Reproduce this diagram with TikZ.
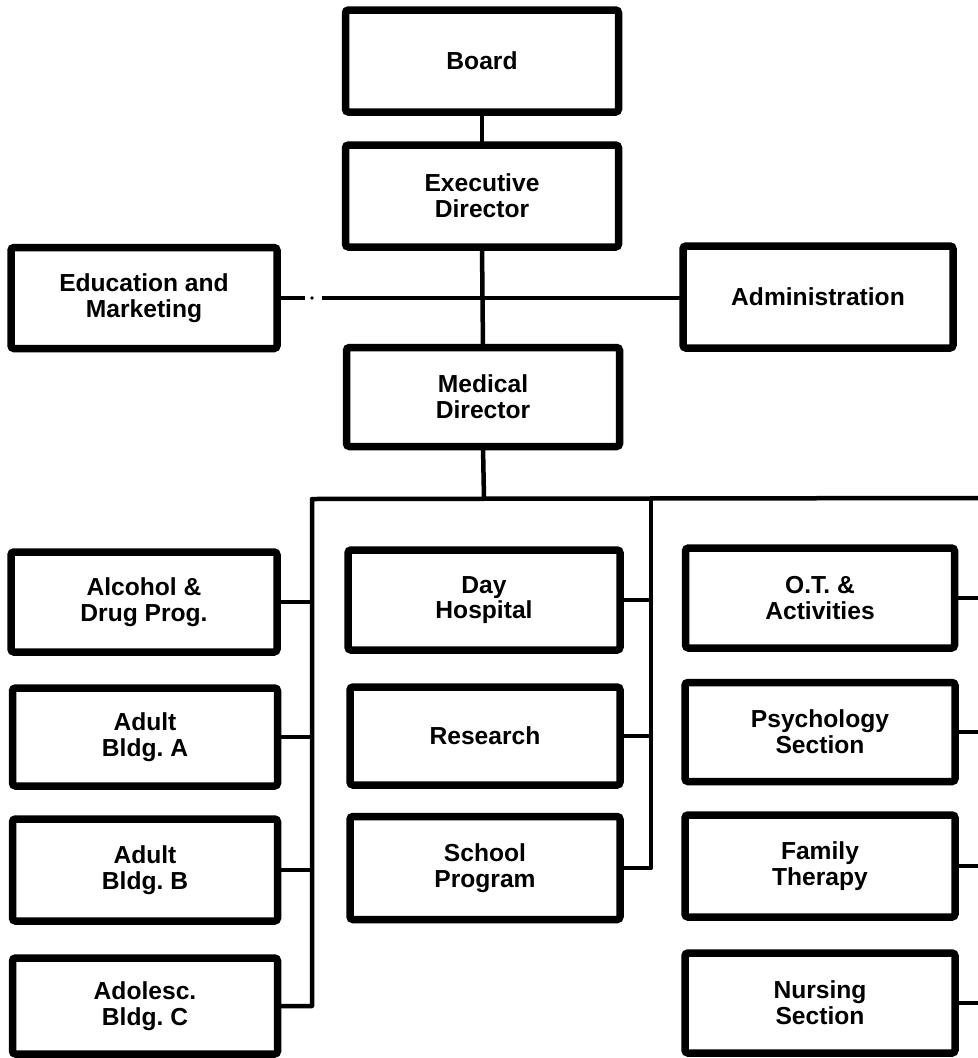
\documentclass[tikz,border=0pt]{standalone}
\usepackage{fontspec}
\setmainfont{Liberation Sans}
\frenchspacing
\newcommand\pxu{0.03cm}
\tikzset{
  unit box/.style 2 args={
    draw, line width=7.5*\pxu, rounded corners=3*\pxu,
    minimum width=#1*\pxu, minimum height=#2*\pxu,
    inner sep=0pt, outer sep=0pt, align=center,
    font=\fontsize{21}{22}\selectfont\bfseries},
  link/.style={line width=4.5*\pxu, line join=round}
}
\begin{document}
\begin{tikzpicture}[x=\pxu, y=-\pxu]
\useasboundingbox (0,0) rectangle (978,1058);

% top of the chart
\node[unit box={273}{102}] (board) at (482,61) {Board};
\node[unit box={273}{102}] (exec)  at (482,196) {Executive\\Director};
\node[unit box={266}{101}] (edu)   at (144,298) {Education and\\Marketing};
\node[unit box={270}{102}] (admin) at (818,297) {Administration};
\node[unit box={273}{99}]  (med)   at (483,397) {Medical\\Director};

% left column
\node[unit box={266}{100}] (alc)   at (144,602) {Alcohol \&\\Drug Prog.};
\node[unit box={265}{98}]  (adA)   at (145,737) {Adult\\Bldg. A};
\node[unit box={265}{102}] (adB)   at (145,870) {Adult\\Bldg. B};
\node[unit box={265}{96}]  (adC)   at (145,1006) {Adolesc.\\Bldg. C};

% middle column
\node[unit box={272}{100}] (day)   at (484,600) {Day\\Hospital};
\node[unit box={270}{98}]  (res)   at (485,736) {Research};
\node[unit box={270}{103}] (sch)   at (485,868) {School\\Program};

% right column
\node[unit box={269}{100}] (ot)    at (820,598) {O.T. \&\\Activities};
\node[unit box={270}{99}]  (psy)   at (820,732) {Psychology\\Section};
\node[unit box={270}{102}] (fam)   at (820,866) {Family\\Therapy};
\node[unit box={270}{100}] (nur)   at (820,1003) {Nursing\\Section};

% junction points
\coordinate (staff)  at (484,298);
\coordinate (eduA)   at (305,298);
\coordinate (eduB)   at (322,298);
\coordinate (bus)    at (484,499);
\coordinate (busL)   at (312,499);
\coordinate (busM)   at (651,499);
\coordinate (busR)   at (978,498);
\coordinate (edgeR)  at (978,0);

% vertical chain of command
\draw[link] (board.south) -- (exec.north);
\draw[link] (exec.south) -- (med.north);

% staff line to the side offices
\draw[link] (edu.east) -- (eduA);
\fill (312,298) circle (1.8);
\draw[link] (eduB) -- (staff) -- (staff -| admin.west);

% main bus under the medical director
\draw[link] (med.south) -- (bus);
\draw[link] (busR) -- (busL) -- (busL |- adC.east) -- (adC.east);
\draw[link] (busM) -- (busM |- sch.east) -- (sch.east);

% stubs of the left column
\draw[link] (alc.east) -- (alc.east -| busL);
\draw[link] (adA.east) -- (adA.east -| busL);
\draw[link] (adB.east) -- (adB.east -| busL);

% stubs of the middle column
\draw[link] (day.east) -- (day.east -| busM);
\draw[link] (res.east) -- (res.east -| busM);

% stubs of the right column
\draw[link] (ot.east)  -- (ot.east -| edgeR);
\draw[link] (psy.east) -- (psy.east -| edgeR);
\draw[link] (fam.east) -- (fam.east -| edgeR);
\draw[link] (nur.east) -- (nur.east -| edgeR);
\end{tikzpicture}
\end{document}
